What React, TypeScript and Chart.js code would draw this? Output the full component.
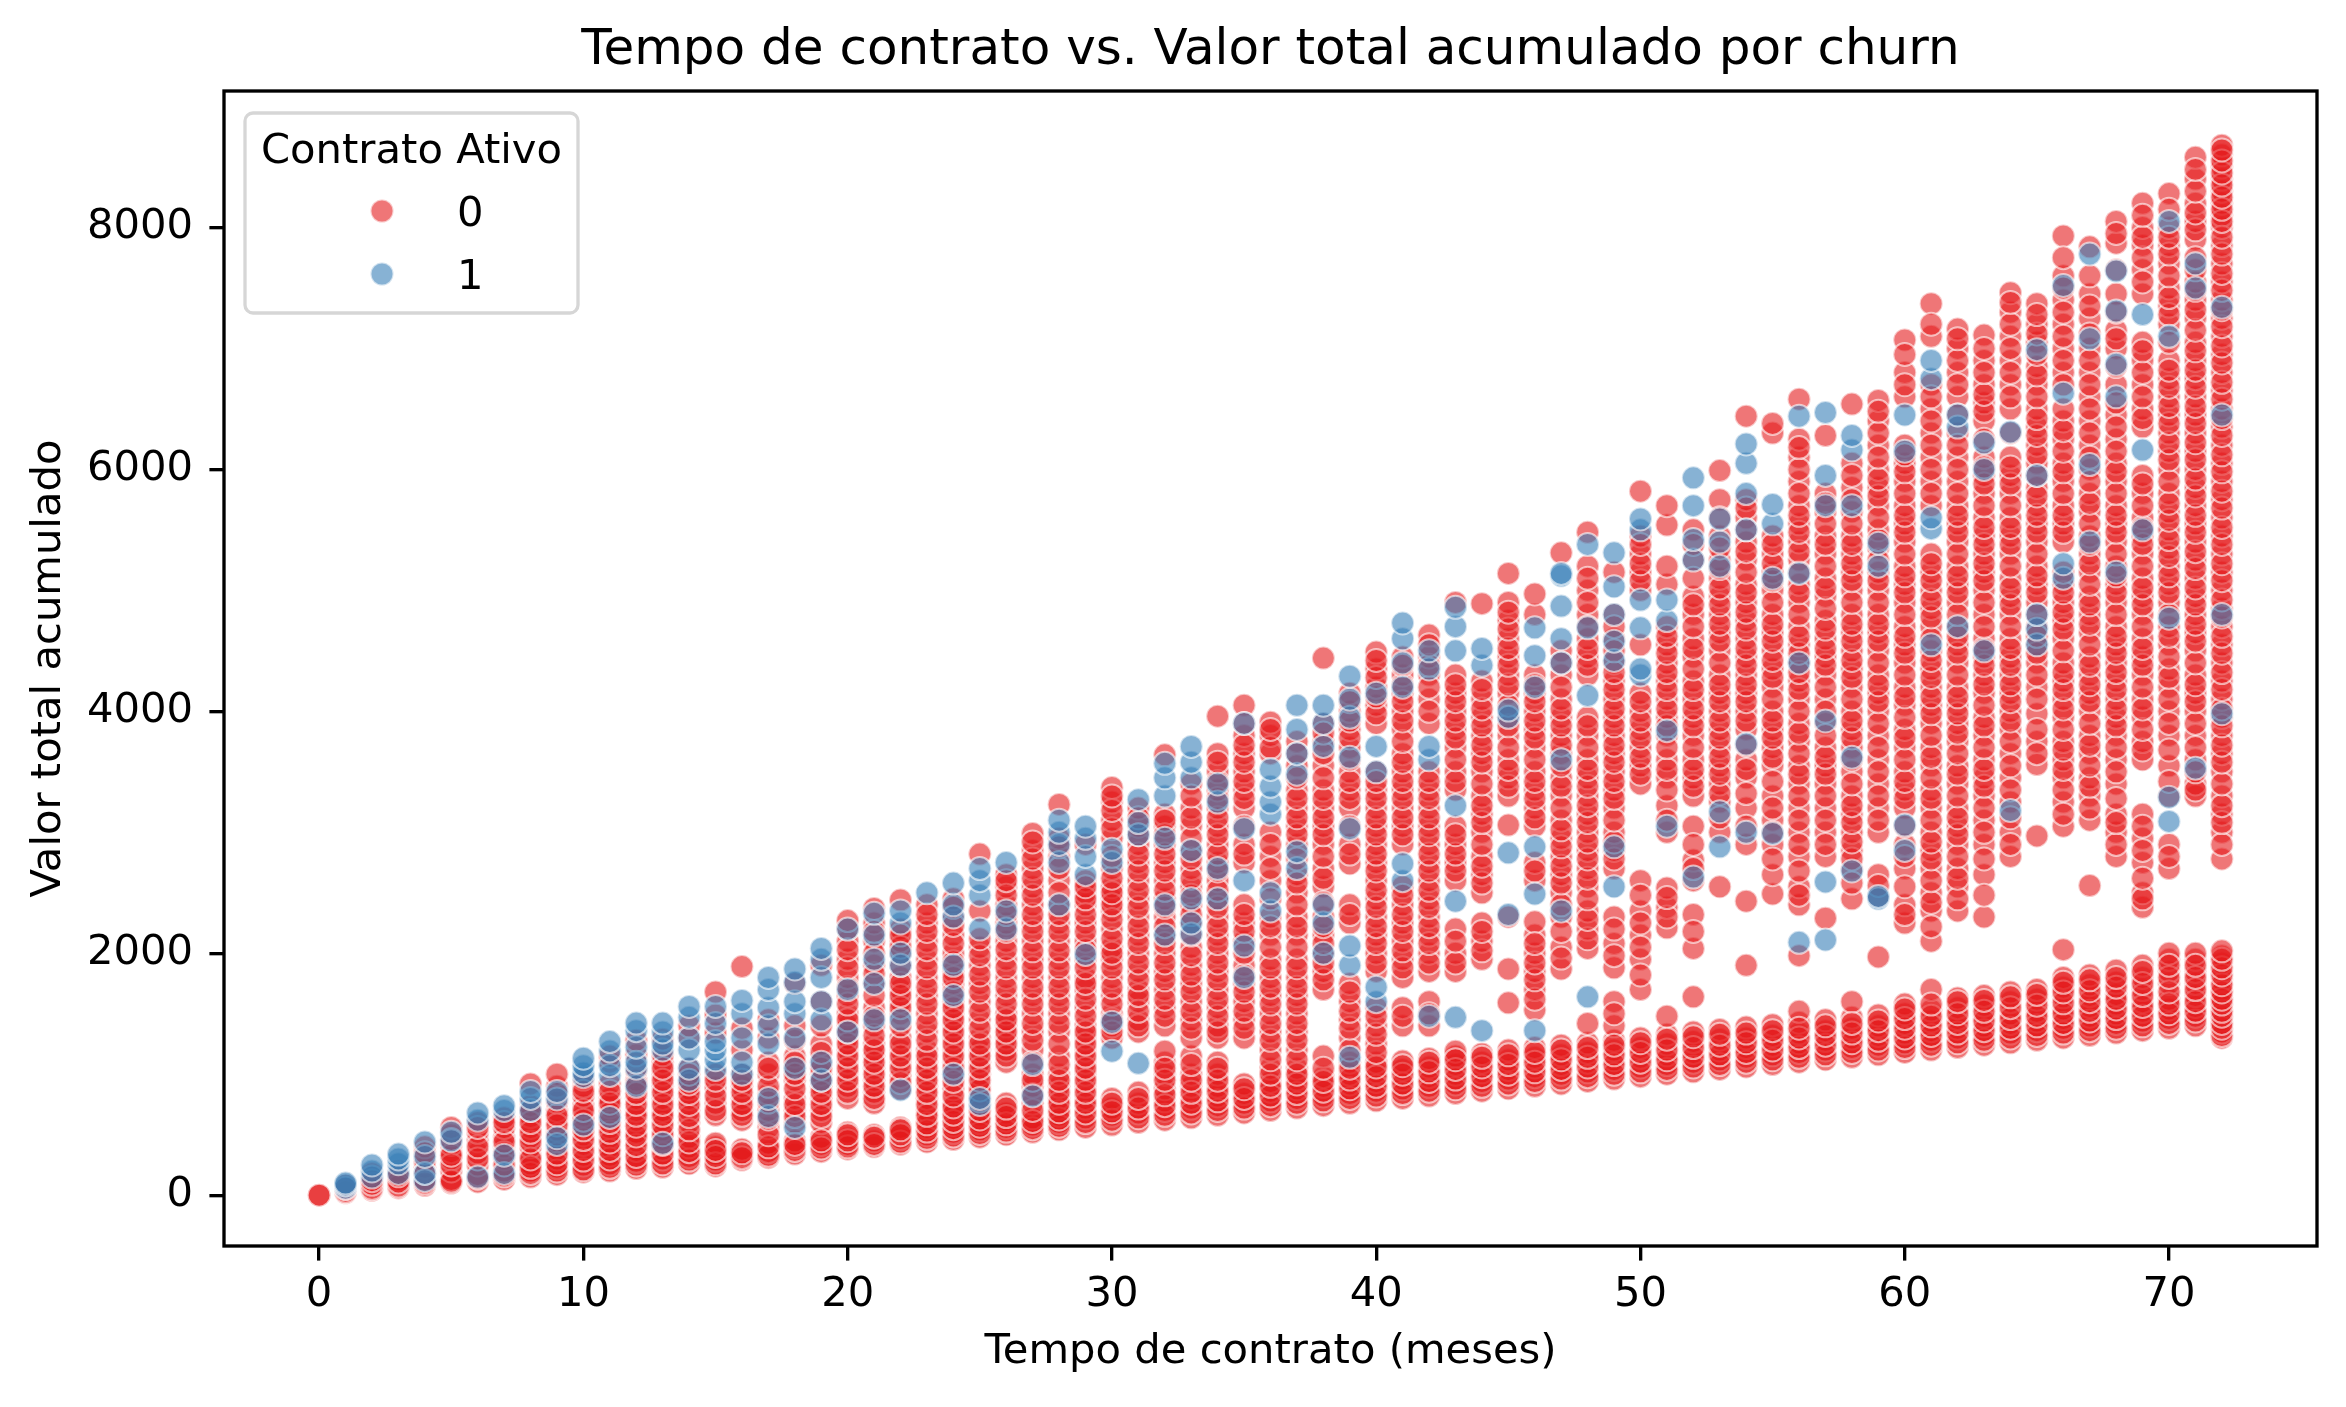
import { useEffect, useRef } from 'react'
import Chart from 'chart.js/auto'

const chartTitle = 'Tempo de contrato vs. Valor total acumulado por churn'
const xAxisLabel = 'Tempo de contrato (meses)'
const yAxisLabel = 'Valor total acumulado'
const legendTitle = 'Contrato Ativo'
const seriesLabels = ['0', '1']

const xTicks = [0, 10, 20, 30, 40, 50, 60, 70]
const yTicks = [0, 2000, 4000, 6000, 8000]

// valor total acumulado por cliente, agrupado por mes de contrato (indice = meses)
const totalsActive0: number[][] = [
  [0],
  [20, 45, 70],
  [40, 70, 100, 140, 180],
  [60, 90, 130, 200],
  [80, 130, 230, 280, 400],
  [100, 130, 200, 300, 360, 420, 500, 560],
  [110, 170, 250, 350, 450, 520, 600],
  [130, 200, 300, 400, 480, 560, 640],
  [150, 200, 260, 330, 400, 480, 560, 650, 740, 920],
  [170, 230, 300, 380, 450, 540, 620, 700, 770, 900, 1000],
  [190, 250, 330, 420, 500, 580, 660, 740, 820, 900, 960],
  [200, 260, 330, 400, 480, 560, 640, 730, 800, 920, 1100, 1150],
  [220, 280, 370, 450, 520, 620, 700, 800, 880, 950, 1030, 1160, 1280],
  [230, 300, 380, 460, 540, 620, 700, 800, 900, 1000, 1100, 1160, 1290],
  [260, 320, 400, 480, 600, 700, 800, 880, 950, 1050, 1300, 1400],
  [240, 290, 340, 400, 430, 660, 760, 890, 1000, 1340, 1490, 1680],
  [290, 330, 380, 620, 700, 800, 900, 1000, 1200, 1380, 1890],
  [310, 360, 430, 560, 700, 840, 1000, 1100, 1300, 1450],
  [340, 400, 450, 600, 700, 800, 950, 1050, 1150, 1280, 1400, 1750],
  [360, 420, 480, 600, 700, 800, 900, 1000, 1100, 1250, 1400, 1600, 1900],
  [380, 420, 470, 520, 800, 900, 1000, 1100, 1200, 1300, 1400, 1500, 1650, 1800, 1950, 2100, 2200, 2270],
  [400, 450, 500, 760, 850, 950, 1050, 1150, 1250, 1400, 1550, 1750, 1900, 2100, 2250, 2370],
  [420, 470, 520, 560, 880, 980, 1100, 1200, 1300, 1500, 1600, 1700, 1800, 2000, 2100, 2200, 2440],
  [440, 500, 560, 620, 700, 800, 900, 1000, 1100, 1200, 1350, 1500, 1650, 1800, 1950, 2100, 2250, 2400],
  [460, 520, 580, 640, 700, 760, 880, 1000, 1100, 1200, 1300, 1400, 1500, 1600, 1750, 1850, 2000, 2150, 2300, 2450],
  [480, 540, 600, 660, 740, 830, 900, 1000, 1100, 1200, 1300, 1450, 1600, 1750, 1900, 2050, 2350, 2820],
  [500, 560, 620, 680, 760, 1100, 1200, 1300, 1400, 1500, 1650, 1800, 1950, 2100, 2250, 2400, 2550, 2650],
  [520, 580, 640, 760, 900, 1000, 1200, 1350, 1500, 1650, 1800, 1950, 2100, 2250, 2400, 2550, 2700, 2850, 2990],
  [540, 600, 660, 720, 800, 900, 1000, 1150, 1350, 1500, 1650, 1800, 1950, 2100, 2250, 2400, 2600, 2800, 2950, 3230],
  [560, 640, 720, 800, 900, 1000, 1100, 1200, 1300, 1400, 1550, 1700, 1800, 1950, 2100, 2250, 2400, 2500, 2600, 2900],
  [580, 660, 720, 800, 1300, 1400, 1500, 1650, 1800, 1950, 2050, 2200, 2350, 2450, 2550, 2700, 2950, 3100, 3250, 3370],
  [600, 680, 760, 850, 1350, 1450, 1600, 1700, 1850, 2000, 2150, 2300, 2450, 2600, 2750, 2900, 3050, 3200],
  [620, 700, 780, 880, 1000, 1100, 1190, 1400, 1550, 1700, 1850, 2000, 2150, 2300, 2450, 2600, 2750, 2900, 3050, 3150, 3640],
  [640, 720, 800, 900, 1000, 1150, 1300, 1450, 1600, 1750, 1900, 2050, 2250, 2400, 2550, 2700, 2850, 3050, 3200, 3400],
  [660, 740, 820, 900, 1000, 1100, 1300, 1400, 1550, 1700, 1850, 2000, 2150, 2300, 2450, 2600, 2750, 2900, 3050, 3200, 3350, 3500, 3650, 3960],
  [680, 760, 840, 920, 1300, 1450, 1600, 1750, 1900, 2100, 2250, 2400, 2750, 2900, 3200, 3350, 3500, 3650, 3800, 4050],
  [700, 780, 860, 940, 1050, 1200, 1350, 1500, 1650, 1800, 1950, 2150, 2300, 2600, 2800, 3000, 3650, 3800, 3910],
  [720, 800, 880, 960, 1050, 1200, 1350, 1500, 1650, 1800, 1950, 2150, 2300, 2500, 2650, 2900, 3050, 3200, 3350, 3550, 3750],
  [740, 820, 900, 980, 1150, 1700, 1850, 2000, 2150, 2300, 2550, 2700, 2900, 3050, 3200, 3350, 3550, 3750, 3900, 4440],
  [760, 840, 920, 1000, 1100, 1300, 1450, 1600, 1750, 2250, 2400, 2740, 2900, 3200, 3350, 3500, 3700, 3850, 4000, 4150],
  [780, 860, 940, 1020, 1100, 1250, 1400, 1550, 1850, 2000, 2150, 2300, 2450, 2600, 2750, 2900, 3050, 3200, 3350, 3500, 3900, 4050, 4200, 4350, 4490],
  [800, 880, 960, 1040, 1110, 1400, 1550, 1800, 1950, 2100, 2250, 2400, 2550, 2900, 3050, 3200, 3350, 3500, 3650, 3850, 4000, 4150, 4300, 4450],
  [820, 900, 980, 1060, 1130, 1400, 1600, 1850, 2000, 2150, 2300, 2450, 2600, 2750, 2900, 3050, 3200, 3350, 3500, 3900, 4100, 4300, 4450, 4630],
  [840, 920, 1000, 1080, 1150, 1190, 1850, 2000, 2200, 2600, 2750, 2900, 3050, 3350, 3500, 3700, 3850, 4000, 4150, 4300, 4900],
  [860, 940, 1020, 1100, 1170, 1950, 2100, 2250, 2500, 2650, 2800, 3000, 3150, 3300, 3500, 3650, 3800, 3950, 4100, 4250, 4890],
  [880, 960, 1040, 1120, 1200, 1590, 1870, 2300, 3060, 3300, 3450, 3600, 3800, 3950, 4150, 4300, 4450, 4600, 4750, 4900, 5140],
  [900, 980, 1060, 1140, 1220, 1530, 1700, 1850, 2000, 2150, 2260, 2600, 2750, 3050, 3200, 3350, 3500, 3700, 3850, 4000, 4150, 4300, 4800, 4970],
  [920, 1000, 1080, 1160, 1240, 1870, 2050, 2300, 2500, 2650, 2800, 2950, 3100, 3300, 3450, 3650, 3800, 3950, 4100, 4300, 4500, 5310],
  [940, 1020, 1100, 1180, 1260, 1420, 2040, 2200, 2350, 2550, 2700, 2850, 3000, 3150, 3300, 3450, 3600, 3800, 3950, 4300, 4450, 4600, 4800, 5000, 5200, 5480],
  [960, 1040, 1120, 1200, 1280, 1400, 1600, 1880, 2080, 2300, 2700, 2850, 3000, 3200, 3350, 3500, 3650, 3800, 3950, 4100, 4250, 4400, 4600, 4800, 5150],
  [980, 1060, 1140, 1220, 1300, 1700, 1950, 2150, 2350, 2600, 3400, 3550, 3700, 3850, 4000, 4150, 4550, 5000, 5150, 5300, 5450, 5820],
  [1000, 1080, 1160, 1250, 1330, 1480, 2210, 2380, 2540, 3000, 3220, 3450, 3600, 3800, 3950, 4100, 4250, 4400, 4550, 4700, 5050, 5200, 5540, 5700],
  [1020, 1100, 1180, 1270, 1350, 1640, 2040, 2320, 2600, 2770, 3050, 3300, 3450, 3600, 3800, 3950, 4100, 4250, 4450, 4600, 4800, 4950, 5250, 5500],
  [1040, 1120, 1200, 1290, 1370, 2550, 3000, 3250, 3400, 3550, 3700, 3850, 4000, 4150, 4300, 4500, 4650, 4800, 4950, 5100, 5250, 5450, 5750, 5990],
  [1060, 1140, 1220, 1300, 1390, 1900, 2430, 2900, 3200, 3450, 3600, 3850, 4000, 4150, 4300, 4450, 4600, 4750, 4900, 5050, 5250, 5400, 5600, 5750, 6440],
  [1080, 1160, 1240, 1320, 1410, 2490, 2650, 2900, 3100, 3300, 3550, 3700, 3850, 4000, 4200, 4350, 4500, 4650, 4800, 5000, 5150, 5300, 5450, 6300, 6380],
  [1100, 1180, 1260, 1340, 1430, 1520, 1980, 2400, 2550, 2800, 3000, 3200, 3400, 3550, 3750, 3900, 4100, 4250, 4400, 4550, 4700, 4900, 5050, 5250, 5400, 5550, 5700, 5900, 6100, 6250, 6580],
  [1120, 1200, 1280, 1360, 1450, 2290, 2800, 3000, 3200, 3400, 3550, 3700, 3900, 4100, 4300, 4450, 4600, 4750, 4950, 5100, 5300, 5450, 5650, 5800, 6280],
  [1140, 1220, 1300, 1380, 1470, 1600, 2450, 2700, 2850, 3000, 3150, 3300, 3500, 3700, 3850, 4000, 4200, 4350, 4500, 4650, 4800, 5000, 5150, 5300, 5450, 5650, 5850, 6050, 6540],
  [1160, 1240, 1320, 1400, 1490, 1970, 2470, 2650, 3000, 3200, 3400, 3600, 3800, 4000, 4150, 4300, 4500, 4650, 4800, 5000, 5150, 5350, 5500, 5700, 5850, 6000, 6200, 6400, 6570],
  [1180, 1260, 1340, 1420, 1500, 1580, 2250, 2400, 2700, 2900, 3200, 3350, 3500, 3700, 3850, 4050, 4200, 4400, 4550, 4700, 4900, 5050, 5200, 5400, 5550, 5700, 5900, 6050, 6200, 6600, 6800, 7070],
  [1200, 1280, 1360, 1440, 1530, 1700, 2100, 2350, 2500, 2700, 2850, 3000, 3200, 3350, 3550, 3700, 3900, 4050, 4200, 4350, 4500, 4700, 4850, 5000, 5150, 5300, 5700, 5900, 6100, 6300, 6500, 6700, 7100, 7370],
  [1220, 1300, 1380, 1460, 1550, 1630, 2350, 2550, 2700, 2900, 3050, 3200, 3400, 3550, 3750, 3900, 4050, 4200, 4400, 4550, 4700, 4900, 5050, 5200, 5400, 5550, 5700, 5900, 6100, 6300, 6600, 6800, 7000, 7160],
  [1240, 1320, 1400, 1480, 1570, 1650, 2300, 2650, 2900, 3100, 3300, 3450, 3600, 3800, 3950, 4150, 4300, 4450, 4600, 4800, 5000, 5150, 5300, 5450, 5600, 5800, 5950, 6100, 6400, 6550, 6700, 6900, 7110],
  [1260, 1340, 1420, 1500, 1600, 1680, 2800, 3000, 3250, 3450, 3650, 3850, 4000, 4150, 4300, 4450, 4600, 4800, 4950, 5100, 5300, 5450, 5600, 5800, 5950, 6100, 6500, 6700, 6900, 7100, 7300, 7460],
  [1280, 1360, 1440, 1520, 1620, 1700, 2970, 3560, 3750, 3980, 4200, 4400, 4550, 4700, 4900, 5050, 5200, 5400, 5550, 5700, 5850, 6050, 6200, 6350, 6500, 6700, 6850, 7050, 7200, 7370],
  [1300, 1380, 1460, 1540, 1640, 1720, 1800, 2030, 3050, 3250, 3450, 3600, 3750, 3950, 4100, 4250, 4400, 4600, 4750, 4900, 5050, 5400, 5550, 5700, 5900, 6050, 6250, 6400, 6800, 7000, 7200, 7400, 7600, 7930],
  [1320, 1400, 1480, 1560, 1650, 1740, 1820, 2560, 3100, 3300, 3450, 3650, 3800, 4000, 4150, 4300, 4450, 4650, 4800, 4950, 5150, 5300, 5450, 5650, 5800, 6000, 6200, 6400, 6600, 6800, 7000, 7250, 7450, 7840],
  [1340, 1420, 1500, 1580, 1660, 1760, 1860, 2800, 3000, 3150, 3400, 3600, 3800, 3950, 4100, 4250, 4400, 4550, 4700, 4900, 5050, 5200, 5400, 5550, 5700, 5900, 6050, 6250, 6450, 6700, 7000, 7150, 7450, 7870, 8050],
  [1360, 1440, 1520, 1600, 1700, 1800, 1900, 2380, 2500, 2750, 2950, 3150, 3600, 3750, 3950, 4100, 4300, 4450, 4600, 4800, 4950, 5100, 5300, 5450, 5600, 5800, 5950, 6350, 6500, 6700, 6900, 7050, 7450, 7650, 7850, 8000, 8200],
  [1380, 1460, 1540, 1620, 1750, 1850, 1950, 2000, 2700, 2900, 3300, 3550, 3800, 4000, 4200, 4350, 4550, 4700, 4900, 5050, 5200, 5350, 5500, 5650, 5800, 6000, 6150, 6300, 6450, 6600, 6750, 6900, 7200, 7350, 7500, 7700, 7850, 8000, 8280],
  [1400, 1480, 1560, 1650, 1750, 1850, 1950, 2000, 3300, 3400, 3600, 3800, 4000, 4150, 4300, 4500, 4650, 4800, 4950, 5100, 5250, 5400, 5550, 5700, 5850, 6000, 6150, 6300, 6450, 6600, 6750, 6900, 7050, 7250, 7400, 7550, 7900, 8050, 8200, 8400, 8580],
  [1300, 1350, 1400, 1450, 1500, 1550, 1600, 1650, 1700, 1780, 1850, 1920, 1980, 2780, 3000, 3150, 3300, 3500, 3650, 3800, 3950, 4100, 4250, 4400, 4550, 4700, 4850, 5000, 5150, 5300, 5450, 5600, 5750, 5900, 6050, 6200, 6350, 6500, 6650, 6800, 6950, 7100, 7250, 7400, 7550, 7700, 7850, 8000, 8100, 8200, 8300, 8400, 8500, 8600, 8680],
]

// mais clientes do grupo 0 nas colunas densas (mesmo indice de meses)
const totalsActive0More: number[][] = [
  [0],
  [30, 55, 80],
  [55, 90, 120],
  [75, 110, 160],
  [100, 180, 350],
  [115, 250, 330, 460],
  [140, 300, 400, 560],
  [160, 250, 350, 440, 600],
  [180, 230, 300, 440, 520, 600, 700],
  [200, 260, 340, 500, 580, 660, 840],
  [210, 290, 370, 460, 540, 620, 700, 860],
  [230, 300, 370, 440, 520, 600, 680, 760, 860],
  [250, 320, 410, 490, 570, 660, 750, 840, 920],
  [260, 340, 420, 500, 580, 660, 750, 850, 950, 1050],
  [290, 360, 440, 540, 650, 750, 840, 920, 1000],
  [260, 320, 370, 700, 820, 950],
  [310, 350, 660, 750, 850, 950],
  [330, 400, 500, 630, 770, 900, 1050],
  [370, 420, 650, 750, 880, 1000, 1100],
  [390, 450, 650, 750, 850, 950, 1050, 1180],
  [400, 450, 500, 850, 950, 1050, 1150, 1250, 1350, 1450, 1580, 1720, 1880, 2030],
  [420, 480, 800, 900, 1000, 1100, 1200, 1320, 1480, 1650, 1830, 2000, 2180],
  [440, 500, 540, 930, 1050, 1150, 1250, 1400, 1550, 1650, 1750, 1900, 2050, 2150],
  [470, 530, 590, 660, 750, 850, 950, 1050, 1150, 1280, 1420, 1580, 1720, 1880, 2030, 2180, 2320],
  [490, 550, 610, 670, 730, 820, 940, 1050, 1150, 1250, 1350, 1450, 1550, 1680, 1800, 1930, 2080, 2230, 2380],
  [510, 570, 630, 700, 780, 870, 950, 1050, 1150, 1250, 1380, 1520, 1680, 1820, 1980, 2120],
  [530, 590, 650, 720, 1150, 1250, 1350, 1450, 1580, 1720, 1880, 2030, 2180, 2320, 2480, 2600],
  [550, 610, 700, 830, 950, 1100, 1280, 1420, 1580, 1720, 1880, 2020, 2180, 2320, 2480, 2620, 2780, 2920],
  [570, 630, 690, 760, 850, 950, 1080, 1250, 1420, 1580, 1720, 1880, 2020, 2180, 2320, 2500, 2700, 2880],
  [600, 680, 760, 850, 950, 1050, 1150, 1250, 1350, 1480, 1620, 1750, 1880, 2030, 2180, 2320, 2450, 2550],
  [620, 690, 760, 1350, 1450, 1580, 1720, 1880, 2000, 2120, 2280, 2400, 2500, 2620, 2800, 3030, 3180, 3300],
  [640, 720, 800, 1400, 1520, 1650, 1780, 1920, 2080, 2220, 2380, 2520, 2680, 2820, 2980, 3120],
  [660, 740, 830, 950, 1050, 1480, 1620, 1780, 1920, 2080, 2220, 2380, 2520, 2680, 2820, 2980, 3100],
  [680, 760, 850, 950, 1080, 1380, 1520, 1680, 1820, 1980, 2150, 2320, 2480, 2620, 2780, 2950, 3120, 3300],
  [700, 780, 860, 950, 1050, 1350, 1480, 1620, 1780, 1920, 2080, 2220, 2380, 2520, 2680, 2820, 2980, 3120, 3280, 3420, 3580],
  [720, 800, 880, 1380, 1520, 1680, 1820, 2000, 2180, 2320, 2820, 3050, 3280, 3420, 3580, 3720, 3900],
  [740, 820, 900, 1000, 1120, 1280, 1420, 1580, 1720, 1880, 2050, 2220, 2450, 2700, 2900, 3700, 3850],
  [760, 840, 920, 1000, 1120, 1280, 1420, 1580, 1720, 1880, 2050, 2220, 2400, 2580, 2780, 2980, 3120, 3280, 3450, 3650],
  [780, 860, 940, 1050, 1780, 1920, 2080, 2220, 2420, 2620, 2800, 2980, 3120, 3280, 3450, 3650, 3820],
  [800, 880, 960, 1050, 1200, 1380, 1520, 1680, 2320, 2820, 3050, 3280, 3420, 3600, 3780, 3920, 4080],
  [820, 900, 980, 1060, 1180, 1330, 1480, 1920, 2080, 2220, 2380, 2520, 2680, 2820, 2980, 3120, 3280, 3420, 3980, 4120, 4280, 4420],
  [840, 920, 1000, 1070, 1480, 1880, 2020, 2180, 2320, 2480, 2980, 3120, 3280, 3420, 3580, 3750, 3920, 4080, 4220, 4380],
  [860, 940, 1020, 1100, 1500, 1920, 2080, 2220, 2380, 2520, 2680, 2820, 2980, 3120, 3280, 3420, 4000, 4200, 4380, 4550],
  [880, 960, 1040, 1120, 1920, 2100, 2680, 2820, 2980, 3420, 3600, 3780, 3920, 4080, 4220],
  [900, 980, 1060, 1140, 2020, 2180, 2580, 2720, 2900, 3080, 3220, 3400, 3580, 3720, 3880, 4020, 4180],
  [920, 1000, 1080, 1160, 3380, 3520, 3700, 3880, 4050, 4220, 4380, 4520, 4680, 4820],
  [940, 1020, 1100, 1180, 1620, 1780, 1920, 2080, 2680, 3120, 3280, 3420, 3600, 3780, 3920, 4080, 4220],
  [960, 1040, 1120, 1200, 1960, 2180, 2400, 2580, 2720, 2880, 3020, 3200, 3380, 3550, 3720, 3880, 4020, 4200, 4400],
  [980, 1060, 1140, 1220, 2120, 2280, 2450, 2620, 2780, 2920, 3080, 3220, 3380, 3520, 3700, 3880, 4380, 4520, 4700, 4900, 5100],
  [1000, 1080, 1160, 1240, 1500, 1980, 2200, 2780, 2920, 3100, 3280, 3420, 3580, 3720, 3880, 4020, 4180, 4320, 4500, 4700],
  [1020, 1100, 1180, 1260, 1820, 2050, 2250, 2480, 3480, 3620, 3780, 3920, 4080, 5080, 5220, 5380],
  [1040, 1120, 1200, 1290, 2300, 2460, 3100, 3350, 3520, 3700, 3880, 4020, 4180, 4320, 4480, 4620],
  [1060, 1140, 1220, 1310, 2180, 2700, 2900, 3380, 3520, 3700, 3880, 4020, 4180, 4350, 4520, 4700, 4880, 5100, 5380],
  [1080, 1160, 1240, 1330, 3120, 3320, 3480, 3620, 3780, 3920, 4080, 4220, 4400, 4580, 4720, 4880, 5020, 5180, 5350, 5600],
  [1100, 1180, 1260, 1340, 3050, 3320, 3520, 3720, 3920, 4080, 4220, 4380, 4520, 4680, 4820, 4980, 5150, 5320, 5500, 5680],
  [1120, 1200, 1280, 1360, 2780, 3000, 3200, 3420, 3620, 3780, 3920, 4100, 4280, 4420, 4580, 4720, 4900, 5080, 5220, 5380],
  [1140, 1220, 1300, 1380, 2480, 2680, 2900, 3100, 3300, 3480, 3650, 3820, 4000, 4180, 4320, 4480, 4620, 4800, 4980, 5150, 5320, 5480, 5620, 5800, 6000, 6180],
  [1160, 1240, 1320, 1400, 2900, 3100, 3300, 3480, 3620, 3800, 4000, 4200, 4380, 4520, 4680, 4850, 5020, 5200, 5380, 5550, 5720],
  [1180, 1260, 1340, 1420, 2580, 2780, 2920, 3080, 3220, 3400, 3600, 3780, 3920, 4100, 4280, 4420, 4580, 4720, 4900, 5080, 5220, 5380, 5550, 5750, 5950],
  [1200, 1280, 1360, 1440, 2560, 3100, 3300, 3500, 3700, 3900, 4080, 4220, 4400, 4580, 4720, 4900, 5080, 5250, 5420, 5600, 5780, 5920, 6100, 6300, 6480],
  [1220, 1300, 1380, 1460, 1540, 2320, 2550, 2800, 3050, 3280, 3420, 3600, 3780, 3950, 4120, 4300, 4480, 4620, 4800, 4980, 5120, 5300, 5480, 5620, 5800, 5980, 6120, 6700, 6950],
  [1240, 1320, 1400, 1480, 1580, 2220, 2420, 2600, 2780, 2920, 3100, 3280, 3450, 3620, 3800, 3980, 4120, 4280, 4420, 4600, 4780, 4920, 5080, 5220, 5800, 6000, 6200, 6400, 6600, 7200],
  [1260, 1340, 1420, 1500, 1600, 2450, 2620, 2800, 2980, 3120, 3300, 3480, 3650, 3820, 3980, 4120, 4300, 4480, 4620, 4800, 4980, 5120, 5300, 5480, 5620, 5800, 6000, 6200, 6450, 6700, 6900, 7080],
  [1280, 1360, 1440, 1520, 1610, 2480, 2780, 3000, 3200, 3380, 3520, 3700, 3880, 4050, 4220, 4380, 4520, 4700, 4900, 5080, 5220, 5380, 5520, 5700, 5880, 6020, 6250, 6480, 6620, 6800, 7000],
  [1300, 1380, 1460, 1550, 1640, 2900, 3120, 3350, 3550, 3750, 3920, 4080, 4220, 4380, 4520, 4700, 4880, 5020, 5200, 5380, 5520, 5700, 5880, 6020, 6300, 6600, 6800, 7000, 7200, 7380],
  [1320, 1400, 1480, 1570, 1660, 3650, 3850, 4100, 4300, 4480, 4620, 4800, 4980, 5120, 5300, 5480, 5620, 5780, 5950, 6120, 6280, 6420, 6600, 6780, 6950, 7120, 7280],
  [1340, 1420, 1500, 1590, 1680, 1760, 3150, 3350, 3520, 3680, 3850, 4020, 4180, 4320, 4500, 4680, 4820, 4980, 5150, 5480, 5620, 5800, 5980, 6150, 6320, 6500, 6700, 6900, 7100, 7300, 7500, 7750],
  [1360, 1440, 1520, 1600, 1690, 1780, 3200, 3380, 3550, 3720, 3900, 4080, 4220, 4380, 4550, 4720, 4880, 5050, 5220, 5380, 5550, 5720, 5900, 6100, 6300, 6500, 6700, 6900, 7120, 7350, 7600],
  [1380, 1460, 1540, 1620, 1720, 1800, 2900, 3080, 3280, 3500, 3700, 3880, 4020, 4180, 4320, 4480, 4620, 4800, 4980, 5120, 5300, 5480, 5620, 5800, 5980, 6150, 6350, 6550, 6850, 7080, 7300, 7650, 7950],
  [1400, 1480, 1560, 1650, 1750, 1850, 2450, 2620, 2850, 3050, 3680, 3850, 4020, 4200, 4380, 4520, 4700, 4880, 5020, 5200, 5380, 5520, 5700, 5880, 6420, 6600, 6800, 6980, 7550, 7750, 7920, 8100],
  [1420, 1500, 1580, 1680, 1800, 1900, 2800, 3420, 3680, 3900, 4100, 4280, 4450, 4620, 4800, 4980, 5120, 5280, 5420, 5580, 5720, 5900, 6080, 6220, 6380, 6520, 6680, 6820, 7050, 7280, 7420, 7600, 7780, 7920, 8150],
  [1440, 1520, 1600, 1700, 1800, 1900, 3350, 3500, 3700, 3900, 4080, 4220, 4400, 4580, 4720, 4880, 5020, 5180, 5320, 5480, 5620, 5780, 5920, 6080, 6220, 6380, 6520, 6680, 6820, 6980, 7150, 7320, 7480, 7650, 7750, 7980, 8120, 8300, 8480],
  [1320, 1380, 1420, 1480, 1520, 1580, 1620, 1680, 1740, 1820, 1880, 1950, 2020, 2900, 3080, 3220, 3400, 3580, 3720, 3880, 4020, 4180, 4320, 4480, 4620, 4780, 4920, 5080, 5220, 5380, 5520, 5680, 5820, 5980, 6120, 6280, 6420, 6580, 6720, 6880, 7020, 7180, 7320, 7480, 7620, 7780, 7920, 8050, 8150, 8250, 8350, 8450, 8550, 8640],
]

const totalsActive1: number[][] = [
  [],
  [60, 85, 100],
  [150, 200, 250],
  [180, 260, 300, 340],
  [120, 180, 320, 440],
  [450, 520],
  [150, 620, 680],
  [180, 330, 700, 740],
  [700, 800, 857],
  [420, 475, 796, 857],
  [580, 980, 1010, 1071, 1132],
  [643, 990, 1071, 1193, 1270],
  [900, 1050, 1100, 1224, 1360, 1423],
  [429, 1200, 1250, 1350, 1423],
  [950, 1050, 1200, 1300, 1470, 1560],
  [1040, 1120, 1200, 1270, 1420, 1560],
  [1000, 1100, 1300, 1500, 1610],
  [650, 800, 1250, 1400, 1550, 1700, 1800],
  [560, 1050, 1300, 1500, 1600, 1760, 1870],
  [950, 1100, 1450, 1600, 1800, 1950, 2040],
  [1350, 1700, 2200],
  [1450, 1750, 1950, 2150, 2330],
  [870, 1450, 1900, 2000, 2250, 2350],
  [2500],
  [1000, 1650, 1900, 2300, 2400, 2580],
  [750, 800, 2200, 2480, 2600, 2700],
  [2200, 2350, 2750],
  [820, 1080],
  [2400, 2750, 2900, 3000, 3100],
  [1990, 2650, 2800, 2950, 3050],
  [1190, 1430, 2750, 2860],
  [1090, 2980, 3080, 3270],
  [2150, 2400, 2950, 3300, 3450, 3570],
  [2160, 2250, 2450, 2850, 3450, 3580, 3710],
  [2450, 2700, 3250, 3400],
  [1800, 2060, 2600, 3030, 3900],
  [2350, 2500, 3150, 3250, 3380, 3520],
  [2700, 2840, 3480, 3650, 3850, 4050],
  [2000, 2250, 2400, 3710, 3900, 4050],
  [1140, 1900, 2060, 3030, 3620, 3950, 4100, 4290],
  [1600, 1720, 3500, 3710, 4150],
  [2600, 2740, 4200, 4400, 4600, 4730],
  [1480, 3600, 3710, 4350, 4500],
  [1470, 2430, 3220, 4500, 4700, 4860],
  [1360, 4380, 4520],
  [2320, 2830, 3950, 4010],
  [1360, 2490, 2880, 4200, 4460, 4690],
  [2350, 3600, 4400, 4600, 4870, 5120, 5140],
  [1640, 4130, 4690, 5380],
  [2550, 2880, 4420, 4580, 4800, 5030, 5310],
  [4300, 4350, 4690, 4920, 5500, 5590],
  [3050, 3840, 4750, 4920],
  [2630, 5250, 5420, 5700, 5930],
  [2880, 3170, 5200, 5400, 5590],
  [3000, 3730, 5500, 5800, 6050, 6210],
  [2990, 5100, 5550, 5710],
  [2090, 4400, 5140, 6440],
  [2110, 2590, 3920, 5700, 5950, 6470],
  [2680, 3620, 5700, 6160, 6280],
  [2450, 2470, 5200, 5390],
  [2850, 3060, 6150, 6450],
  [4550, 5510, 5600, 6750, 6900],
  [4700, 6350, 6450],
  [4500, 6000, 6220],
  [3180, 6310],
  [4550, 4680, 4800, 5950, 6990],
  [5100, 5220, 6630, 7520],
  [5400, 6040, 7080, 7780],
  [5150, 6600, 6870, 7310, 7640],
  [5500, 6160, 7280],
  [3090, 3290, 4770, 7100, 8050],
  [3530, 7500, 7700],
  [3980, 4800, 6450, 7340],
]

const FONT = '"DejaVu Sans", sans-serif'
const RED = 'rgba(228, 26, 28, 0.6)'
const BLUE = 'rgba(55, 126, 184, 0.6)'
const EDGE = 'rgba(255, 255, 255, 0.6)'
const SPINE = 3.33

const toPoints = (cols: number[][]) =>
  cols.flatMap((vals, month) => vals.map((v) => ({ x: month, y: v })))

export default function App() {
  const canvasRef = useRef<HTMLCanvasElement>(null)
  const chartRef = useRef<Chart | null>(null)

  useEffect(() => {
    if (!canvasRef.current) return
    if (chartRef.current) chartRef.current.destroy()

    const tickFont = { family: FONT, size: 41.7 }

    chartRef.current = new Chart(canvasRef.current, {
      type: 'scatter',
      data: {
        datasets: [
          {
            label: seriesLabels[0],
            data: [...toPoints(totalsActive0), ...toPoints(totalsActive0More)],
            backgroundColor: RED,
            borderColor: EDGE,
            borderWidth: 2,
            pointRadius: 11.5,
            pointHoverRadius: 11.5,
            order: 1,
          },
          {
            label: seriesLabels[1],
            data: toPoints(totalsActive1),
            backgroundColor: BLUE,
            borderColor: EDGE,
            borderWidth: 2,
            pointRadius: 11.5,
            pointHoverRadius: 11.5,
            order: 0,
          },
        ],
      },
      options: {
        animation: false,
        responsive: true,
        maintainAspectRatio: false,
        events: [],
        layout: { padding: { left: 0, right: 29, top: 0, bottom: 0 } },
        plugins: {
          legend: { display: false },
          tooltip: { enabled: false },
          title: {
            display: true,
            text: chartTitle,
            fullSize: false,
            color: '#000',
            font: { family: FONT, size: 50, weight: 'normal' },
            padding: { top: 21, bottom: 10 },
          },
        },
        scales: {
          x: {
            type: 'linear',
            min: -3.6,
            max: 75.6,
            afterBuildTicks: (s) => {
              s.ticks = xTicks.map((v) => ({ value: v }))
            },
            afterFit: (s) => {
              s.height = 161
            },
            border: { display: false },
            grid: {
              display: true,
              drawOnChartArea: false,
              drawTicks: true,
              tickLength: 14.6,
              color: '#000',
              lineWidth: SPINE,
            },
            ticks: {
              color: '#000',
              font: tickFont,
              padding: 10,
              maxRotation: 0,
              autoSkip: false,
              callback: (v) => String(v),
            },
            title: {
              display: true,
              text: xAxisLabel,
              color: '#000',
              font: tickFont,
              padding: { top: 0, bottom: 30 },
            },
          },
          y: {
            type: 'linear',
            min: -420,
            max: 9128,
            afterBuildTicks: (s) => {
              s.ticks = yTicks.map((v) => ({ value: v }))
            },
            afterFit: (s) => {
              s.width = 224
            },
            border: { display: false },
            grid: {
              display: true,
              drawOnChartArea: false,
              drawTicks: true,
              tickLength: 14.6,
              color: '#000',
              lineWidth: SPINE,
            },
            ticks: {
              color: '#000',
              font: tickFont,
              padding: 16.4,
              autoSkip: false,
              callback: (v) => String(v),
            },
            title: {
              display: true,
              text: yAxisLabel,
              color: '#000',
              font: tickFont,
              padding: { top: 24, bottom: 0 },
            },
          },
        },
      },
      plugins: [
        {
          id: 'spines',
          afterDatasetsDraw: (chart) => {
            const { ctx, chartArea: a } = chart
            ctx.save()
            ctx.strokeStyle = '#000'
            ctx.lineWidth = SPINE
            ctx.strokeRect(a.left, a.top, a.right - a.left, a.bottom - a.top)
            ctx.restore()
          },
        },
        {
          id: 'boxLegend',
          afterDraw: (chart) => {
            const { ctx, chartArea: a } = chart
            const x = a.left + 21
            const y = a.top + 22
            const w = 333
            const h = 200
            ctx.save()
            ctx.beginPath()
            ctx.roundRect(x, y, w, h, 8)
            ctx.fillStyle = 'rgba(255,255,255,0.8)'
            ctx.fill()
            ctx.strokeStyle = '#d6d6d6'
            ctx.lineWidth = 3.3
            ctx.stroke()

            ctx.fillStyle = '#000'
            ctx.font = `41.7px ${FONT}`
            ctx.textAlign = 'center'
            ctx.textBaseline = 'alphabetic'
            ctx.fillText(legendTitle, x + w / 2, y + 50)

            chart.data.datasets.forEach((ds, i) => {
              const cy = y + 98 + i * 63
              ctx.beginPath()
              ctx.arc(x + 137, cy, 11.5, 0, Math.PI * 2)
              ctx.fillStyle = ds.backgroundColor as string
              ctx.fill()
              ctx.strokeStyle = EDGE
              ctx.lineWidth = 2
              ctx.stroke()
              ctx.fillStyle = '#000'
              ctx.textAlign = 'left'
              ctx.fillText(String(ds.label), x + 212, cy + 15)
            })
            ctx.restore()
          },
        },
      ],
    })

    return () => {
      if (chartRef.current) {
        chartRef.current.destroy()
        chartRef.current = null
      }
    }
  }, [])

  return (
    <div style={{ position: 'absolute', left: 0, top: 0, width: 2346, height: 1407, background: '#fff' }}>
      <canvas ref={canvasRef} />
    </div>
  )
}
